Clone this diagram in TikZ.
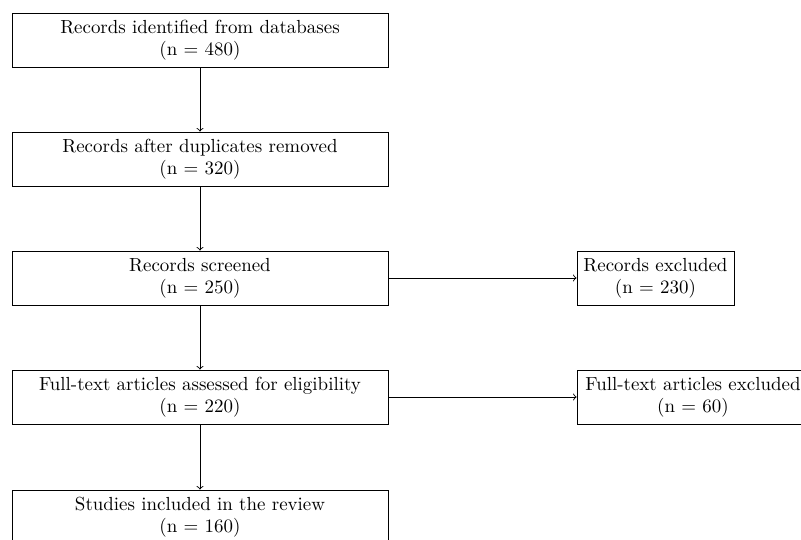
\documentclass[tikz,border=0pt]{standalone}
\begin{document}
\begin{tikzpicture}[x=0.565pt,y=-0.565pt,
  box/.style={draw, line width=0.5pt, align=center, inner sep=0pt, minimum height=30.5pt, font=\fontsize{10.7}{12.6}\selectfont},
  arr/.style={->, line width=0.5pt}]
\useasboundingbox (0,0) rectangle (801,540);
\clip (0,0) rectangle (801,540);
\node[box, minimum width=212.4pt] (a) at (200,40) {Records identified from databases\\(n = 480)};
\node[box, minimum width=212.4pt] (b) at (200,159) {Records after duplicates removed\\(n = 320)};
\node[box, minimum width=212.4pt] (c) at (200,278) {Records screened\\(n = 250)};
\node[box, minimum width=212.4pt] (d) at (200,397) {Full-text articles assessed for eligibility\\(n = 220)};
\node[box, minimum width=212.4pt] (e) at (200,517) {Studies included in the review\\(n = 160)};
\node[box, minimum width=88.7pt] (f) at (655.5,278) {Records excluded\\(n = 230)};
\node[box, minimum width=131pt] (g) at (693,397) {Full-text articles excluded\\(n = 60)};
\draw[arr] (a) -- (b);
\draw[arr] (b) -- (c);
\draw[arr] (c) -- (d);
\draw[arr] (d) -- (e);
\draw[arr] (c) -- (f);
\draw[arr] (d) -- (g);
\end{tikzpicture}
\end{document}
